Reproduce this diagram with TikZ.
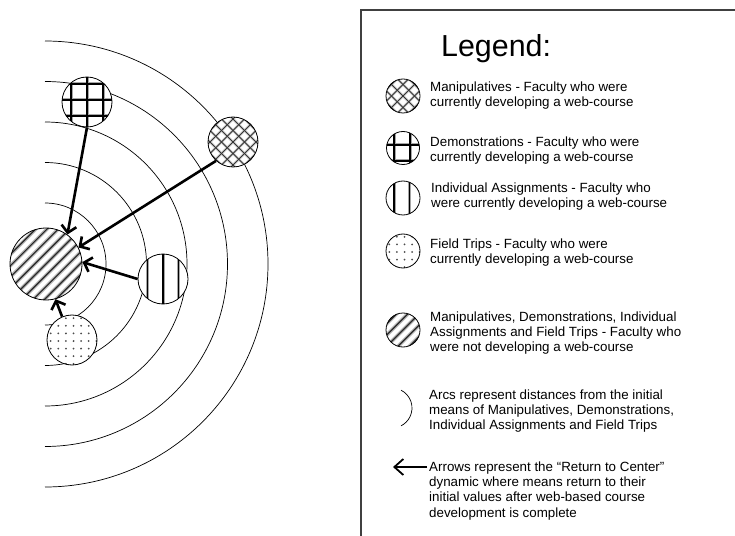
\documentclass[tikz,border=0pt]{standalone}
\usepackage{fontspec}
\setmainfont{Liberation Sans}
\usetikzlibrary{arrows.meta}

% fixed first-line height so text blocks can be placed by their first baseline
\newcommand\firstline{\rule{0pt}{11bp}}

\begin{document}
\begin{tikzpicture}[x=1bp,y=-1bp,
  ring/.style={line width=0.7bp},
  disc/.style={circle, draw, line width=0.8bp, fill=white, inner sep=0pt, minimum size=#1},
  % soft diagonal stripes (/)
  pdiag/.style={path picture={
    \foreach \k in {-7,...,7}{
      \draw[black!28,line width=3.6bp] ([xshift=\k*11.3bp]path picture bounding box.center) ++(-70,70) -- ++(140,-140);}
    \foreach \k in {-7,...,7}{
      \draw[black!85,line width=1.2bp] ([xshift=\k*11.3bp]path picture bounding box.center) ++(-70,70) -- ++(140,-140);}
  }},
  % soft diagonal crosshatch
  pcross/.style={path picture={
    \foreach \k in {-6,...,6}{
      \draw[black!18,line width=2.8bp] ([xshift=\k*11.5bp]path picture bounding box.center) ++(-60,60) -- ++(120,-120);
      \draw[black!18,line width=2.8bp] ([xshift=\k*11.5bp]path picture bounding box.center) ++(-60,-60) -- ++(120,120);}
    \foreach \k in {-6,...,6}{
      \draw[black!80,line width=1bp] ([xshift=\k*11.5bp]path picture bounding box.center) ++(-60,60) -- ++(120,-120);
      \draw[black!80,line width=1bp] ([xshift=\k*11.5bp]path picture bounding box.center) ++(-60,-60) -- ++(120,120);}
  }},
  % square grid, offsets of the line sets given as arguments
  pgrid/.style 2 args={path picture={
    \foreach \k in {-3,...,3}{
      \draw[black!35,line width=3bp] ([xshift=#1bp+\k*16bp]path picture bounding box.center) ++(0,-40) -- ++(0,80);
      \draw[black!35,line width=3bp] ([yshift=-#2bp-\k*16bp]path picture bounding box.center) ++(-40,0) -- ++(80,0);}
    \foreach \k in {-3,...,3}{
      \draw[black,line width=1.3bp] ([xshift=#1bp+\k*16bp]path picture bounding box.center) ++(0,-40) -- ++(0,80);
      \draw[black,line width=1.3bp] ([yshift=-#2bp-\k*16bp]path picture bounding box.center) ++(-40,0) -- ++(80,0);}
  }},
  % vertical lines
  pvert/.style={path picture={
    \foreach \k in {-3,...,3}{
      \draw[black!35,line width=3bp] ([xshift=#1bp+\k*15.5bp]path picture bounding box.center) ++(0,-40) -- ++(0,80);}
    \foreach \k in {-3,...,3}{
      \draw[black,line width=1.3bp] ([xshift=#1bp+\k*15.5bp]path picture bounding box.center) ++(0,-40) -- ++(0,80);}
  }},
  % small dots
  pdots/.style={path picture={
    \foreach \i in {-5,...,5}{\foreach \j in {-5,...,5}{
      \fill[black!70] ([shift={(\i*7.6+1.5,\j*7.6+1)}]path picture bounding box.center) circle[radius=1bp];}}
  }},
  back/.style={line width=2.6bp, -{Straight Barb[length=7bp,width=15bp]}},
  note/.style={anchor=north west, inner sep=0pt, align=left,
    font=\fontsize{13.4}{15.4}\selectfont},
  frame/.style={line width=1.1bp, black!75},
]
\useasboundingbox (0,0) rectangle (735,536);

% distance arcs around the common centre
\foreach \r in {61,101.5,142,182.5,223}{
  \draw[ring] (45,264) ++(0,-\r) arc[start angle=-90, end angle=90, radius=\r];}

% groups
\node[disc=72bp, pdiag]        (all)  at (46,264)  {};
\node[disc=50bp, pcross]       (manip) at (233,142) {};
\node[disc=50bp, pgrid={0}{-2}] (demo) at (87,102)  {};
\node[disc=50bp, pvert=0]      (indiv) at (163,279) {};
\node[disc=50bp, pdots]        (trip) at (72,340)  {};

% return-to-center arrows
\draw[back] (demo.south) -- (all.54);
\draw[back] (manip.228)  -- (all.27);
\draw[back] (indiv.west) -- (all.3);
\draw[back] (trip.113)   -- (all.-75);

% legend frame
\draw[frame] (361,540) -- (361,10) -- (740,10);

\node[anchor=base west, inner sep=0pt, font=\fontsize{30.5}{36}\selectfont] (title) at (441,57) {Legend:};

% legend symbols
\node[disc=34bp, pcross]         (kmanip) at (403,96)  {};
\node[disc=33bp, pgrid={-9}{-3}] (kdemo)  at (403,148) {};
\node[disc=34bp, pvert=-9]       (kindiv) at (403,198) {};
\node[disc=34bp, pdots]          (ktrip)  at (403,251) {};
\node[disc=34bp, pdiag]          (kall)   at (403,330) {};
\draw[ring] (392,408) ++(-63:20) arc[start angle=-63, end angle=63, radius=20];
\coordinate (kfrom) at (427,467);
\coordinate (kto) at (393,467);
\draw[line width=1.8bp, -{Straight Barb[length=9bp,width=16bp]}] (kfrom) -- (kto);

% legend texts
\node[note] (tmanip) at (430,80)  {\firstline Manipulatives - Faculty who were\\currently developing a web-course};
\node[note] (tdemo)  at (430,135) {\firstline Demonstrations - Faculty who were\\currently developing a web-course};
\node[note] (tindiv) at (431,181) {\firstline Individual Assignments - Faculty who\\were currently developing a web-course};
\node[note] (ttrip)  at (430,237) {\firstline Field Trips - Faculty who were\\currently developing a web-course};
\node[note] (tall)   at (430,310) {\firstline Manipulatives, Demonstrations, Individual\\Assignments and Field Trips - Faculty who\\were not developing a web-course};
\node[note] (tarc)   at (429,388) {\firstline Arcs represent distances from the initial\\means of Manipulatives, Demonstrations,\\Individual Assignments and Field Trips};
\node[note] (tarrow) at (429,460) {\firstline Arrows represent the “Return to Center”\\dynamic where means return to their\\initial values after web-based course\\development is complete};
\end{tikzpicture}
\end{document}
